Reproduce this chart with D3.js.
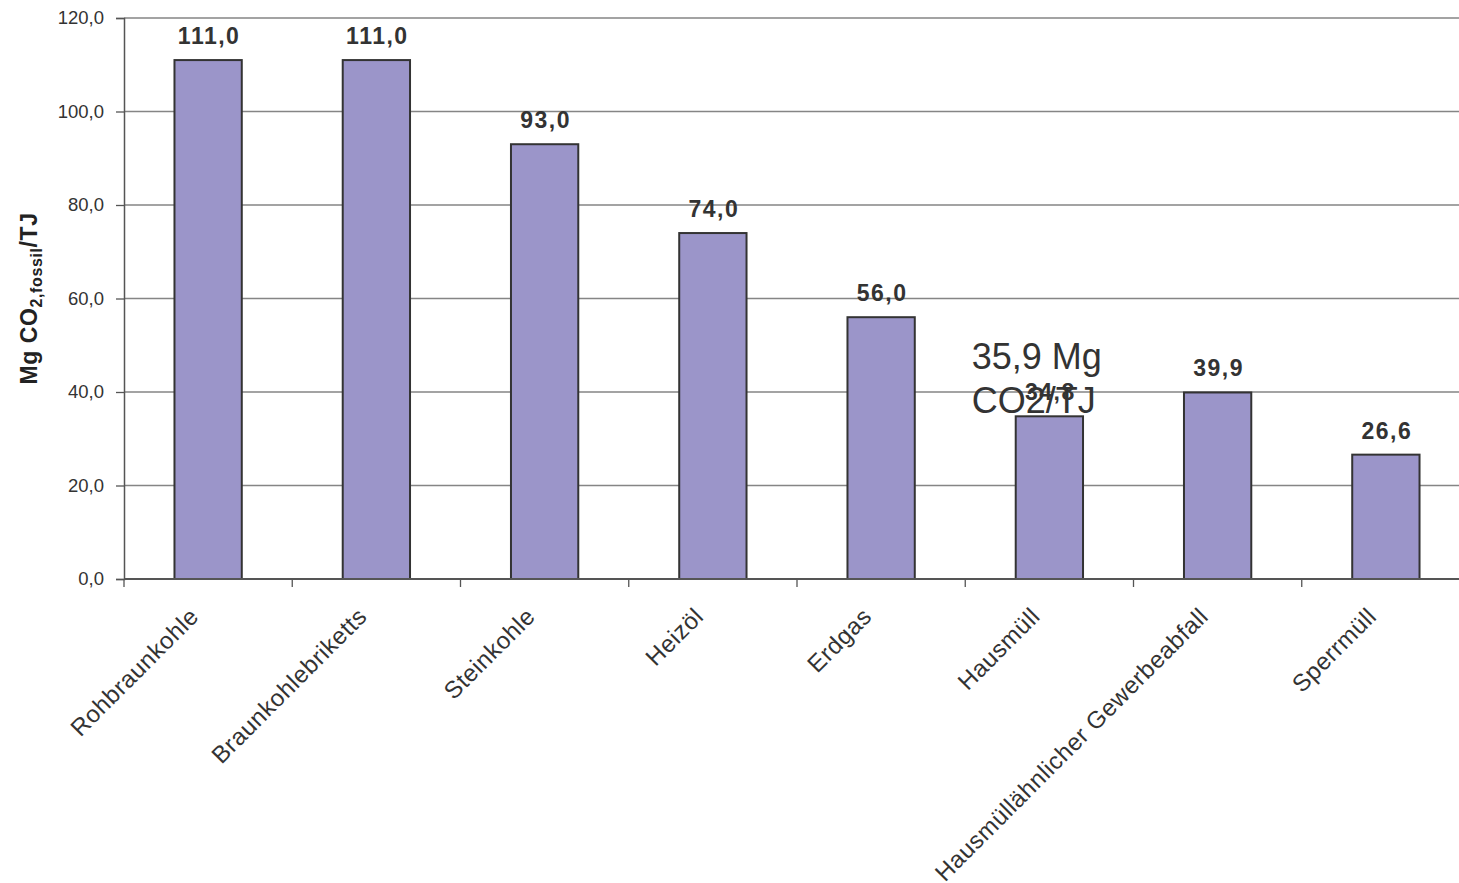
<!DOCTYPE html>
<html>
<head>
<meta charset="utf-8">
<script src="https://cdn.jsdelivr.net/npm/d3@7"></script>
<style>
  html, body { margin: 0; padding: 0; background: #fff; }
  svg { display: block; font-family: "Liberation Sans", Arial, sans-serif; }
</style>
</head>
<body>
<svg id="chart" width="1459" height="883"></svg>
<script>
const categories = ["Rohbraunkohle", "Braunkohlebriketts", "Steinkohle", "Heizöl", "Erdgas", "Hausmüll", "Hausmüllähnlicher Gewerbeabfall", "Sperrmüll"];
const values = [111.0, 111.0, 93.0, 74.0, 56.0, 34.8, 39.9, 26.6];
const yTicks = [0, 20, 40, 60, 80, 100, 120];
const yLabelMain = "Mg CO";
const yLabelSub = "2,fossil";
const yLabelEnd = "/TJ";
const noteLines = ["35,9 Mg", "CO2/TJ"];

const svg = d3.select("#chart");
const pLeft = 124, pRight = 1470, pTop = 18, pBottom = 579;

const x = d3.scaleBand().domain(categories).range([pLeft, pRight]).paddingInner(0.6).paddingOuter(0.3);
const y = d3.scaleLinear().domain([0, 120]).range([pBottom, pTop]);
const fmt = v => v.toFixed(1).replace(".", ",");

// gridlines
svg.append("g").selectAll("line").data(yTicks.filter(t => t > 0)).join("line")
  .attr("x1", pLeft).attr("x2", pRight)
  .attr("y1", d => y(d)).attr("y2", d => y(d))
  .attr("stroke", "#858585").attr("stroke-width", 1.3);

// bars
svg.append("g").selectAll("rect").data(values).join("rect")
  .attr("x", (d, i) => x(categories[i]))
  .attr("y", d => y(d))
  .attr("width", x.bandwidth())
  .attr("height", d => y(0) - y(d))
  .attr("fill", "#9b95c9")
  .attr("stroke", "#333")
  .attr("stroke-width", 2);

// y axis
const yAxis = svg.append("g").attr("transform", `translate(${pLeft},0)`)
  .call(d3.axisLeft(y).tickValues(yTicks).tickFormat(fmt).tickSize(8).tickPadding(12));
yAxis.select(".domain").attr("stroke", "#555").attr("stroke-width", 1.5);
yAxis.selectAll(".tick line").attr("stroke", "#555").attr("stroke-width", 1.3);
yAxis.selectAll("text").attr("font-size", 18.5).attr("fill", "#333")
  .attr("font-family", "Liberation Sans, Arial, sans-serif");

// x axis line and ticks at category boundaries
const step = x.step();
const boundaries = categories.map(c => x(c) + x.bandwidth() / 2 - step / 2);
boundaries.push(pRight);
svg.append("line").attr("x1", pLeft).attr("x2", pRight).attr("y1", pBottom).attr("y2", pBottom)
  .attr("stroke", "#555").attr("stroke-width", 1.8);
svg.append("g").selectAll("line").data(boundaries).join("line")
  .attr("x1", d => d).attr("x2", d => d).attr("y1", pBottom).attr("y2", pBottom + 8)
  .attr("stroke", "#555").attr("stroke-width", 1.3);

// x labels
svg.append("g").selectAll("text").data(categories).join("text")
  .attr("transform", d => `translate(${x(d) + x.bandwidth() / 2 - 8},${pBottom + 39}) rotate(-45)`)
  .attr("text-anchor", "end")
  .attr("font-size", 24)
  .attr("letter-spacing", 0.5)
  .attr("fill", "#333")
  .text(d => d);

// value labels
svg.append("g").selectAll("text").data(values).join("text")
  .attr("x", (d, i) => x(categories[i]) + x.bandwidth() / 2 + 1)
  .attr("y", d => y(d) - 16)
  .attr("text-anchor", "middle")
  .attr("font-size", 23)
  .attr("letter-spacing", 1.5)
  .attr("font-weight", "bold")
  .attr("fill", "#333")
  .text(d => fmt(d));

// y axis title
const yt = svg.append("text")
  .attr("transform", `translate(37,${(pTop + pBottom) / 2}) rotate(-90)`)
  .attr("text-anchor", "middle")
  .attr("font-size", 23)
  .attr("letter-spacing", 0.6)
  .attr("font-weight", "bold")
  .attr("fill", "#222");
yt.append("tspan").text(yLabelMain);
yt.append("tspan").attr("font-size", 16).attr("dy", 5).text(yLabelSub);
yt.append("tspan").attr("dy", -5).text(yLabelEnd);

// overlay note
const noteX = x("Hausmüll") - 44;
svg.append("g").selectAll("text").data(noteLines).join("text")
  .attr("x", noteX)
  .attr("y", (d, i) => 369 + i * 44)
  .attr("font-size", 36)
  .attr("fill", "#333")
  .text(d => d);
</script>
</body>
</html>
